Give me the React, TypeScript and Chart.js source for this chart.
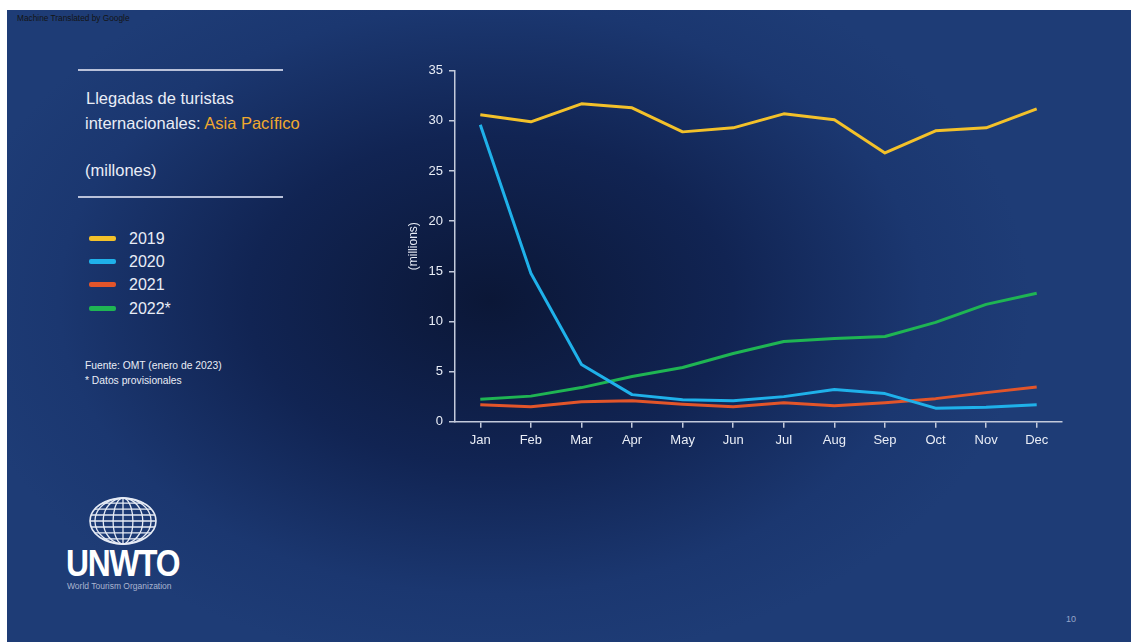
import React, { useEffect, useRef } from "react";
import { Chart, registerables } from "chart.js";

Chart.register(...registerables);

const months = ["Jan", "Feb", "Mar", "Apr", "May", "Jun", "Jul", "Aug", "Sep", "Oct", "Nov", "Dec"];

const arrivals2019 = [30.6, 29.9, 31.7, 31.3, 28.9, 29.3, 30.7, 30.1, 26.8, 29.0, 29.3, 31.2];
const arrivals2020 = [29.6, 14.8, 5.7, 2.7, 2.2, 2.1, 2.5, 3.2, 2.8, 1.35, 1.45, 1.7];
const arrivals2021 = [1.7, 1.5, 2.0, 2.1, 1.75, 1.5, 1.9, 1.6, 1.9, 2.3, 2.9, 3.45];
const arrivals2022 = [2.25, 2.55, 3.4, 4.5, 5.4, 6.8, 8.0, 8.3, 8.5, 9.9, 11.7, 12.8];

const yTicks = [0, 5, 10, 15, 20, 25, 30, 35];

const seriesNames = ["2019", "2020", "2021", "2022*"];
const seriesColors = ["#f3c12a", "#1fb1ea", "#e2552a", "#1fb553"];

const axisColor = "#c3cadb";
const textColor = "#e9edf6";
const font = "'Liberation Sans', Arial, sans-serif";

function LineChart() {
  const ref = useRef<HTMLCanvasElement | null>(null);

  useEffect(() => {
    if (!ref.current) return;
    const values = [arrivals2019, arrivals2020, arrivals2021, arrivals2022];
    const chart = new Chart(ref.current, {
      type: "line",
      data: {
        labels: months,
        datasets: seriesNames.map((name, i) => ({
          label: name,
          data: values[i],
          borderColor: seriesColors[i],
          backgroundColor: seriesColors[i],
          borderWidth: 3,
          pointRadius: 0,
          tension: 0,
          borderJoinStyle: "round" as const,
        })),
      },
      options: {
        animation: false,
        responsive: false,
        layout: { padding: { left: 22, top: 20.7, right: 18, bottom: 0 } },
        plugins: { legend: { display: false }, tooltip: { enabled: false } },
        scales: {
          x: {
            offset: true,
            grid: {
              offset: false,
              drawOnChartArea: false,
              drawTicks: true,
              tickLength: 6,
              color: axisColor,
              lineWidth: 1.5,
            },
            border: { display: true, color: axisColor, width: 1.5 },
            ticks: {
              color: textColor,
              padding: 5,
              font: { family: font, size: 13 },
              maxRotation: 0,
            },
            afterFit: (scale: any) => {
              scale.height = 58.3;
            },
          },
          y: {
            min: 0,
            max: 35,
            afterBuildTicks: (scale: any) => {
              scale.ticks = yTicks.map((v) => ({ value: v }));
            },
            grid: {
              drawOnChartArea: false,
              drawTicks: true,
              tickLength: 6,
              color: axisColor,
              lineWidth: 1.5,
            },
            border: { display: true, color: axisColor, width: 1.5 },
            ticks: {
              color: textColor,
              padding: 6,
              font: { family: font, size: 13 },
            },
            title: {
              display: true,
              text: "(millions)",
              color: textColor,
              font: { family: font, size: 12 },
            },
            afterFit: (scale: any) => {
              scale.width = 53;
            },
          },
        },
      },
    });
    return () => chart.destroy();
  }, []);

  return <canvas ref={ref} width={700} height={430} style={{ display: "block" }} />;
}

// Wire-frame globe above the UNWTO word mark (slide coordinates)
function Globe() {
  const cx = 116;
  const cy = 511;
  const rx = 33;
  const ry = 23;
  const meridians = [0.3, 0.6, 0.85];
  const parallels = [-0.78, -0.52, -0.26, 0, 0.26, 0.52, 0.78];
  return (
    <svg
      width={1124}
      height={632}
      style={{ position: "absolute", left: 0, top: 0, pointerEvents: "none" }}
    >
      <g stroke="#e6ebf5" strokeWidth={1.3} fill="none">
        <ellipse cx={cx} cy={cy} rx={rx} ry={ry} strokeWidth={1.6} />
        <line x1={cx} y1={cy - ry} x2={cx} y2={cy + ry} />
        {meridians.map((k, i) => (
          <ellipse key={"m" + i} cx={cx} cy={cy} rx={rx * k} ry={ry} />
        ))}
        {parallels.map((p, i) => {
          const y = cy + p * ry;
          const half = rx * Math.sqrt(1 - p * p);
          return <line key={"p" + i} x1={cx - half} y1={y} x2={cx + half} y2={y} />;
        })}
      </g>
    </svg>
  );
}

export default function App() {
  const txt: React.CSSProperties = {
    position: "absolute",
    fontFamily: font,
    color: textColor,
    whiteSpace: "nowrap",
    lineHeight: 1,
  };
  const rule: React.CSSProperties = {
    position: "absolute",
    left: 71,
    width: 205,
    height: 2,
    background: "#b9c1d9",
  };
  return (
    <div
      style={{
        position: "absolute",
        left: 7,
        top: 10,
        width: 1124,
        height: 632,
        overflow: "hidden",
        background:
          "radial-gradient(ellipse 48% 58% at 43% 46%, #0b1737 0%, #112453 45%, #1b3770 80%, #1e3c76 100%)",
      }}
    >
      <div style={{ ...txt, left: 10, top: 4, fontSize: 8.3, color: "#141414" }}>
        Machine Translated by Google
      </div>

      <div style={{ ...rule, top: 59 }} />
      <div style={{ ...txt, left: 79, top: 80, fontSize: 16.5 }}>Llegadas de turistas</div>
      <div style={{ ...txt, left: 78, top: 105, fontSize: 16.5 }}>
        internacionales: <span style={{ color: "#f0a92e" }}>Asia Pacífico</span>
      </div>
      <div style={{ ...txt, left: 78, top: 152, fontSize: 16.5 }}>(millones)</div>
      <div style={{ ...rule, top: 186 }} />

      {seriesNames.map((name, i) => (
        <React.Fragment key={name}>
          <div
            style={{
              position: "absolute",
              left: 82,
              top: 226 + i * 23.2,
              width: 27,
              height: 5,
              borderRadius: 2,
              background: seriesColors[i],
            }}
          />
          <div style={{ ...txt, left: 122, top: 221 + i * 23.2, fontSize: 16 }}>{name}</div>
        </React.Fragment>
      ))}

      <div style={{ ...txt, left: 78, top: 351, fontSize: 10.3 }}>Fuente: OMT (enero de 2023)</div>
      <div style={{ ...txt, left: 78, top: 366, fontSize: 10.3 }}>* Datos provisionales</div>

      <Globe />
      <div
        style={{
          ...txt,
          left: 59,
          top: 535,
          fontSize: 37,
          fontWeight: "bold",
          color: "#ffffff",
          letterSpacing: -1.5,
          transform: "scaleX(0.86)",
          transformOrigin: "left top",
        }}
      >
        UNWTO
      </div>
      <div style={{ ...txt, left: 60, top: 572, fontSize: 8.5, color: "#aab5d0" }}>
        World Tourism Organization
      </div>

      <div style={{ ...txt, left: 1059, top: 605, fontSize: 9, color: "#97a6c9" }}>10</div>

      <div style={{ position: "absolute", left: 373, top: 40 }}>
        <LineChart />
      </div>
    </div>
  );
}
